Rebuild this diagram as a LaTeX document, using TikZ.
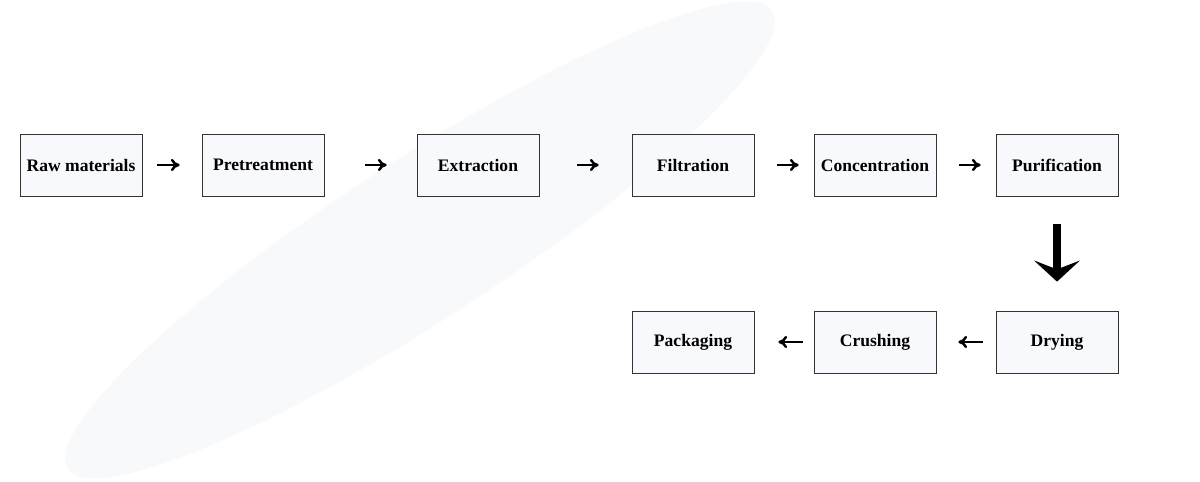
\documentclass[tikz,border=0pt]{standalone}
\usepackage{fontspec}
\setmainfont{Liberation Serif}
\usetikzlibrary{arrows.meta}
\definecolor{boxfill}{HTML}{F8F9FC}
\definecolor{blob}{HTML}{F8F9FB}
\tikzset{
  stage/.style = {draw = black!80, fill = boxfill, minimum width = 2.44cm, minimum height = 1.24cm, font = \fontsize{10}{12}\selectfont\bfseries},
  arr/.style = {-{To[length=5pt,width=7pt]}, line width = 1.4pt},
  bigarr/.style = {-{Triangle[length=12pt,width=26pt,inset=5pt]}, line width = 5pt}
}
\begin{document}
\begin{tikzpicture}[x = 0.02cm, y = -0.02cm]
            \useasboundingbox (0,0) rectangle (1200,482);
            % faint background smear
            \fill [blob, rotate around = {33:(420,240)}] (420,240) ellipse (420 and 80);

            \node[stage] (raw) at (81,165) {Raw materials};
            \node[stage] (pre) at (263,165) {Pretreatment};
            \node[stage] (ext) at (478,165) {Extraction};
            \node[stage] (fil) at (693,165) {Filtration};
            \node[stage] (con) at (875,165) {Concentration};
            \node[stage] (pur) at (1057,165) {Purification};

            \node[stage] (pac) at (693,342) {Packaging};
            \node[stage] (cru) at (875,342) {Crushing};
            \node[stage] (dry) at (1057,342) {Drying};

            \draw [arr, shorten <= 0.3cm, shorten >= 0.44cm] (raw) -- (pre);
            \draw [arr, shorten <= 0.82cm, shorten >= 0.6cm] (pre) -- (ext);
            \draw [arr, shorten <= 0.76cm, shorten >= 0.66cm] (ext) -- (fil);
            \draw [arr, shorten <= 0.46cm, shorten >= 0.3cm] (fil) -- (con);
            \draw [arr, shorten <= 0.46cm, shorten >= 0.3cm] (con) -- (pur);

            \draw [bigarr, shorten <= 0.56cm, shorten >= 0.58cm] (pur) -- (dry);

            \draw [arr, shorten <= 0.26cm, shorten >= 0.44cm] (dry) -- (cru);
            \draw [arr, shorten <= 0.22cm, shorten >= 0.48cm] (cru) -- (pac);
        \end{tikzpicture}
\end{document}
